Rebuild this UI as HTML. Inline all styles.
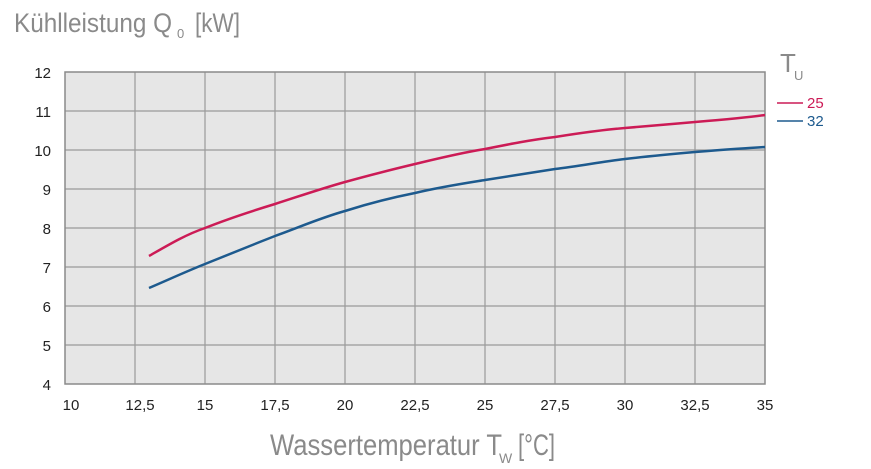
<!DOCTYPE html>
<html><head><meta charset="utf-8"><style>
html,body{margin:0;padding:0;background:#fff;}
svg{display:block;}
</style></head><body>
<svg width="871" height="469" xmlns="http://www.w3.org/2000/svg" font-family="Liberation Sans, sans-serif">
<rect x="65" y="72" width="700" height="312" fill="#e6e6e6"/>
<g stroke="#9a9a9a" stroke-width="1.2">
<line x1="135" y1="72" x2="135" y2="384"/><line x1="205" y1="72" x2="205" y2="384"/>
<line x1="275" y1="72" x2="275" y2="384"/><line x1="345" y1="72" x2="345" y2="384"/>
<line x1="415" y1="72" x2="415" y2="384"/><line x1="485" y1="72" x2="485" y2="384"/>
<line x1="555" y1="72" x2="555" y2="384"/><line x1="625" y1="72" x2="625" y2="384"/>
<line x1="695" y1="72" x2="695" y2="384"/>
<line x1="65" y1="111" x2="765" y2="111"/><line x1="65" y1="150" x2="765" y2="150"/>
<line x1="65" y1="189" x2="765" y2="189"/><line x1="65" y1="228" x2="765" y2="228"/>
<line x1="65" y1="267" x2="765" y2="267"/><line x1="65" y1="306" x2="765" y2="306"/>
<line x1="65" y1="345" x2="765" y2="345"/>
</g>
<rect x="65" y="72" width="700" height="312" fill="none" stroke="#8a8a8a" stroke-width="1.5"/>
<path d="M149,256 C170,244 185,235 205,228 C230,218 252,211 275,204 C300,196 320,189 345,182 C370,175 390,170 415,164 C440,158 460,153 485,149 C510,144 530,140 555,137 C580,133 600,130 625,128 C650,126 672,124 695,122 C720,120 745,118 765,115" fill="none" stroke="#cc1b56" stroke-width="2.5"/>
<path d="M149,288 C170,279 185,272 205,264 C230,254 252,245 275,236 C300,227 320,218 345,211 C370,203 390,198 415,193 C440,187 460,184 485,180 C510,176 530,173 555,169 C580,166 600,162 625,159 C650,156 672,154 695,152 C720,150 745,148 765,147" fill="none" stroke="#1d5a8e" stroke-width="2.5"/>
<g font-size="15" fill="#222" text-anchor="end">
<text x="51" y="78">12</text><text x="51" y="117">11</text><text x="51" y="156">10</text>
<text x="51" y="195">9</text><text x="51" y="234">8</text><text x="51" y="273">7</text>
<text x="51" y="312">6</text><text x="51" y="351">5</text><text x="51" y="390">4</text>
</g>
<g font-size="15" fill="#222" text-anchor="middle">
<text x="71" y="410">10</text><text x="140" y="410">12,5</text><text x="205" y="410">15</text>
<text x="275" y="410">17,5</text><text x="345" y="410">20</text><text x="415" y="410">22,5</text>
<text x="485" y="410">25</text><text x="555" y="410">27,5</text><text x="625" y="410">30</text>
<text x="695" y="410">32,5</text><text x="765" y="410">35</text>
</g>
<text x="14" y="32" font-size="27" fill="#8a8a8a" textLength="158" lengthAdjust="spacingAndGlyphs">Kühlleistung Q</text>
<text x="177" y="38" font-size="13" fill="#8a8a8a">0</text>
<text x="195" y="32" font-size="27" fill="#8a8a8a" textLength="45" lengthAdjust="spacingAndGlyphs">[kW]</text>
<text x="270" y="455" font-size="30" fill="#8a8a8a" textLength="232" lengthAdjust="spacingAndGlyphs">Wassertemperatur T</text>
<text x="499" y="463" font-size="14" fill="#8a8a8a">W</text>
<text x="518" y="455" font-size="30" fill="#8a8a8a" textLength="37" lengthAdjust="spacingAndGlyphs">[°C]</text>
<text x="780" y="72" font-size="26" fill="#8a8a8a">T</text>
<text x="794" y="80" font-size="13" fill="#8a8a8a">U</text>
<line x1="777" y1="103" x2="803" y2="103" stroke="#cc1b56" stroke-width="1.5"/>
<text x="807" y="108" font-size="15" fill="#cc1b56">25</text>
<line x1="777" y1="121" x2="803" y2="121" stroke="#1d5a8e" stroke-width="1.5"/>
<text x="807" y="126" font-size="15" fill="#1d5a8e">32</text>
</svg>
</body></html>
